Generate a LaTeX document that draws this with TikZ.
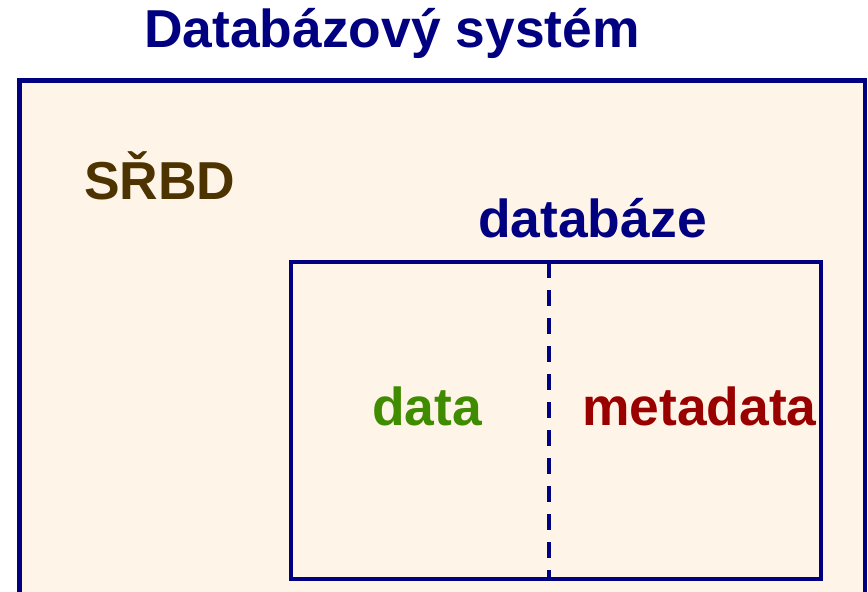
\documentclass[tikz,border=0pt]{standalone}
\usepackage{fontspec}
\setmainfont{Liberation Sans}
\definecolor{navyc}{RGB}{0,0,128}
\definecolor{bgc}{RGB}{255,244,232}
\definecolor{greenc}{RGB}{64,140,0}
\definecolor{redc}{RGB}{153,0,0}
\definecolor{brownc}{RGB}{77,51,0}
\tikzset{
  lbl/.style={anchor=base west, inner sep=0pt, font=\fontsize{53.4}{60}\selectfont\bfseries},
  boxline/.style={draw=navyc, line width=3.3pt}
}
\begin{document}
\begin{tikzpicture}[x=1pt, y=-1pt]
\useasboundingbox (0,0) rectangle (868,592);
\clip (0,0) rectangle (868,592);
\fill[white] (0,0) rectangle (868,592);
\draw[draw=navyc, line width=4.5pt, fill=bgc] (19.5,80.5) rectangle (865,610);
\draw[boxline] (291,262) rectangle (821,579);
\coordinate (dtop) at (549,262);
\coordinate (dbot) at (549,579);
\draw[boxline, dash pattern=on 16pt off 12pt] (dtop) -- (dbot);
\node[lbl, text=navyc] (title) at (144,47) {Databázový systém};
\node[lbl, text=brownc] (srbd) at (84,199.5) {SŘBD};
\node[lbl, text=navyc] (db) at (478,237) {databáze};
\node[lbl, text=greenc] (data) at (372,425) {data};
\node[lbl, text=redc] (meta) at (582,425) {metadata};
\end{tikzpicture}
\end{document}
